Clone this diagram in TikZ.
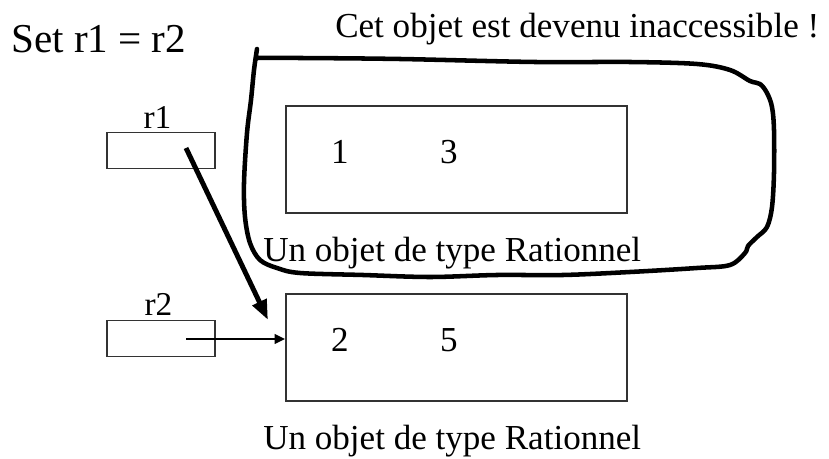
\documentclass[tikz,border=0pt]{standalone}
\usepackage{fontspec}
\setmainfont{Liberation Serif}
\usetikzlibrary{arrows.meta,calc}
\begin{document}
\begin{tikzpicture}[x=0.75pt,y=-0.75pt,
  refbox/.style={draw=black!80,line width=1.1pt,minimum width=81pt,minimum height=27pt,inner sep=0pt},
  objbox/.style={draw=black!80,line width=1.1pt,minimum width=255.75pt,minimum height=80.25pt,inner sep=0pt},
  txt/.style={inner sep=0pt,anchor=base west,font=\fontsize{26.3}{30}\selectfont},
  reflabel/.style={inner sep=0pt,anchor=base,font=\fontsize{25}{29}\selectfont},
  digit/.style={inner sep=0pt,anchor=base,font=\fontsize{26.3}{30}\selectfont},
  bigptr/.style={line width=3.7pt,-{Triangle[length=15pt,width=11pt]}},
  smallptr/.style={line width=1.9pt,-{Triangle[length=8pt,width=7pt]}},
  scribble/.style={line width=3.4pt,line cap=round,line join=round}]
\useasboundingbox (0,0) rectangle (829,459);

% statement
\node[inner sep=0pt,anchor=base west,font=\fontsize{30.8}{36}\selectfont] (stmt) at (11,53) {Set r1 = r2};
\node[txt] (lost) at (335,38) {Cet objet est devenu inaccessible !};

% reference variables
\node[refbox] (r1box) at (161,150.5) {};
\node[reflabel] (r1lab) at (157.5,129) {r1};
\node[refbox] (r2box) at (161,338.5) {};
\node[reflabel] (r2lab) at (158.5,316) {r2};

% objects
\node[objbox] (obj1) at (456.5,159.5) {};
\node[digit] (n1) at (340,164) {1};
\node[digit] (d1) at (449,164) {3};
\node[txt] (cap1) at (263,262) {Un objet de type Rationnel};

\node[objbox] (obj2) at (456.5,347.5) {};
\node[digit] (n2) at (340,352) {2};
\node[digit] (d2) at (449,352) {5};
\node[txt] (cap2) at (263,450) {Un objet de type Rationnel};

% pointers
\coordinate (p1) at (186,148);
\coordinate (t1) at (268,320);
\coordinate (p2) at (186,339);
\draw[bigptr] (p1) -- (t1);
\draw[smallptr] (p2) -- (p2 -| obj2.west);

% hand-drawn loop round the lost object
\draw[scribble] plot[smooth,tension=0.55] coordinates {
  (257,49) (254,70) (251,100) (247,133) (244,183) (245,217) (250,243)
  (260,260) (277,268) (300,273) (363,275) (430,277) (497,275) (563,275)
  (630,272) (697,268) (730,265) (745,253) (748,246) (757,237) (767,227)
  (772,207) (774,173) (774,130) (772,107) (767,93) (760,84) (750,81)
  (730,70) (697,64) (630,62) (535,62) (400,59) (300,58) (256,58)};
\end{tikzpicture}
\end{document}
